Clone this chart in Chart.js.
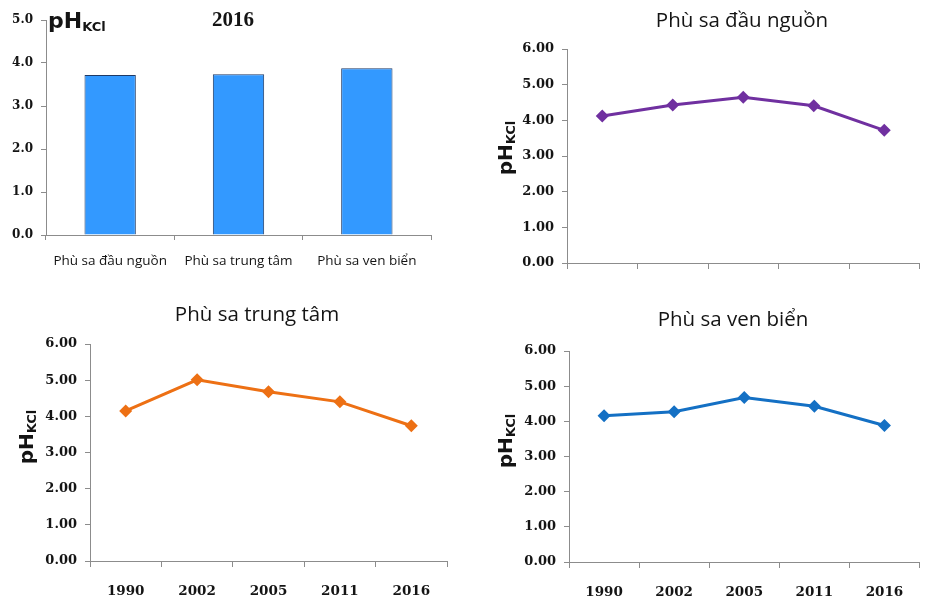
<!DOCTYPE html>
<html lang="vi">
<head>
<meta charset="utf-8">
<script src="https://cdn.jsdelivr.net/npm/chart.js@4.4.1/dist/chart.umd.min.js"></script>
<style>
  html, body { margin: 0; padding: 0; background: #fff; }
  body { width: 926px; height: 603px; position: relative; overflow: hidden; }
  canvas { position: absolute; }
</style>
</head>
<body>
<canvas id="bar2016" width="460" height="290" style="left:0;top:0"></canvas>
<canvas id="dauNguon" width="456" height="290" style="left:470px;top:0"></canvas>
<canvas id="trungTam" width="460" height="313" style="left:0;top:290px"></canvas>
<canvas id="venBien" width="456" height="313" style="left:470px;top:290px"></canvas>
<script>
// pH(KCl) of alluvial soils by zone and survey year
const years = ['1990', '2002', '2005', '2011', '2016'];
const zones = ['Phù sa đầu nguồn', 'Phù sa trung tâm', 'Phù sa ven biển'];
const phDauNguon = [4.12, 4.43, 4.65, 4.41, 3.72];
const phTrungTam = [4.15, 5.01, 4.68, 4.40, 3.74];
const phVenBien  = [4.16, 4.27, 4.68, 4.43, 3.88];
const ph2016 = [phDauNguon[4], phTrungTam[4], phVenBien[4]];

const AXIS = '#8c8c8c';
const TEXT = '#141414';
const SERIF = "'DejaVu Serif', serif";
const SANS = "'Open Sans', 'DejaVu Sans', sans-serif";

// "pH" with a "KCl" subscript, optionally turned to read bottom-to-top
function drawPH(ctx, x, y, rotated, big, small) {
  ctx.save();
  ctx.fillStyle = TEXT;
  ctx.textBaseline = 'alphabetic';
  const fBig = 'bold ' + big + "px 'DejaVu Sans', sans-serif";
  const fSmall = 'bold ' + small + "px 'DejaVu Sans', sans-serif";
  ctx.font = fBig;
  const w1 = ctx.measureText('pH').width;
  ctx.font = fSmall;
  const w2 = ctx.measureText('KCl').width;
  let x0 = x;
  if (rotated) {
    ctx.translate(x, y);
    ctx.rotate(-Math.PI / 2);
    x0 = -(w1 + w2) / 2;
    y = 0;
  }
  ctx.font = fBig;
  ctx.textAlign = 'left';
  ctx.fillText('pH', x0, y);
  ctx.font = fSmall;
  ctx.fillText('KCl', x0 + w1, y + 3);
  ctx.restore();
}

const labelsPlugin = {
  id: 'panelLabels',
  afterDraw(chart, args, opts) {
    const ctx = chart.ctx;
    if (opts.title) {
      ctx.save();
      ctx.fillStyle = TEXT;
      ctx.font = opts.title.font;
      ctx.textAlign = 'center';
      ctx.textBaseline = 'alphabetic';
      ctx.fillText(opts.title.text, opts.title.x, opts.title.y);
      ctx.restore();
    }
    if (opts.ph) {
      drawPH(ctx, opts.ph.x, opts.ph.y, opts.ph.rotated, opts.ph.big, opts.ph.small);
    }
  }
};

function fixedWidth(w) { return function (scale) { scale.width = w; }; }
function fixedHeight(h) { return function (scale) { scale.height = h; }; }

// 2016 comparison of the three zones
new Chart(document.getElementById('bar2016'), {
  type: 'bar',
  data: {
    labels: zones,
    datasets: [{
      data: ph2016,
      backgroundColor: '#3399ff',
      borderColor: '#1f3a66',
      borderWidth: 1,
      barPercentage: 0.4,
      categoryPercentage: 1.0
    }]
  },
  options: {
    responsive: false,
    animation: false,
    layout: { padding: { top: 20, right: 29, bottom: 0, left: 0 } },
    plugins: {
      legend: { display: false },
      tooltip: { enabled: false },
      panelLabels: {
        title: { text: '2016', x: 233, y: 26, font: "bold 21px 'Liberation Serif', serif" },
        ph: { x: 48, y: 28, rotated: false, big: 22, small: 13 }
      }
    },
    scales: {
      x: {
        afterFit: fixedHeight(55),
        grid: { drawOnChartArea: false, tickLength: 5, color: AXIS, offset: true },
        border: { color: AXIS },
        ticks: { padding: 13, color: TEXT, font: { family: SANS, size: 13.5 } }
      },
      y: {
        min: 0, max: 5,
        afterFit: fixedWidth(46),
        grid: { drawOnChartArea: false, tickLength: 5, color: AXIS },
        border: { color: AXIS },
        ticks: {
          stepSize: 1, padding: 8, color: TEXT,
          font: { family: SERIF, size: 12, weight: 'bold' },
          callback: v => Number(v).toFixed(1)
        }
      }
    }
  },
  plugins: [labelsPlugin]
});

function lineChart(id, values, color, cfg) {
  return new Chart(document.getElementById(id), {
    type: 'line',
    data: {
      labels: years,
      datasets: [{
        data: values,
        borderColor: color,
        backgroundColor: color,
        borderWidth: 3,
        pointStyle: 'rectRot',
        pointRadius: 6.5,
        pointBorderWidth: 0,
        tension: 0
      }]
    },
    options: {
      responsive: false,
      animation: false,
      layout: { padding: cfg.padding },
      plugins: {
        legend: { display: false },
        tooltip: { enabled: false },
        panelLabels: {
          title: { text: cfg.title, x: cfg.titleX, y: cfg.titleY, font: '20.5px ' + SANS },
          ph: { x: cfg.phX, y: cfg.phY, rotated: true, big: 20, small: 13 }
        }
      },
      scales: {
        x: {
          offset: true,
          afterFit: fixedHeight(cfg.xHeight),
          grid: { drawOnChartArea: false, tickLength: 6, color: AXIS, offset: true },
          border: { color: AXIS },
          ticks: {
            padding: 16, color: TEXT,
            font: { family: SERIF, size: 13.5, weight: 'bold' },
            callback: cfg.showYears ? function (v) { return this.getLabelForValue(v); } : () => ''
          }
        },
        y: {
          min: 0, max: 6,
          afterFit: fixedWidth(cfg.yWidth),
          grid: { drawOnChartArea: false, tickLength: 5, color: AXIS },
          border: { color: AXIS },
          ticks: {
            stepSize: 1, padding: 8, color: TEXT,
            font: { family: SERIF, size: 13, weight: 'bold' },
            callback: v => Number(v).toFixed(2)
          }
        }
      }
    },
    plugins: [labelsPlugin]
  });
}

lineChart('dauNguon', phDauNguon, '#7030a0', {
  title: 'Phù sa đầu nguồn', titleX: 272, titleY: 27,
  phX: 42, phY: 148,
  padding: { top: 49, right: 0, bottom: 0, left: 0 },
  xHeight: 27, yWidth: 97, showYears: false
});

lineChart('trungTam', phTrungTam, '#ed7014', {
  title: 'Phù sa trung tâm', titleX: 257, titleY: 31,
  phX: 33, phY: 147,
  padding: { top: 54, right: 13, bottom: 0, left: 0 },
  xHeight: 42, yWidth: 90, showYears: true
});

lineChart('venBien', phVenBien, '#1470c4', {
  title: 'Phù sa ven biển', titleX: 263, titleY: 36,
  phX: 42, phY: 151,
  padding: { top: 61, right: 0, bottom: 0, left: 0 },
  xHeight: 41, yWidth: 99, showYears: true
});
</script>
</body>
</html>
